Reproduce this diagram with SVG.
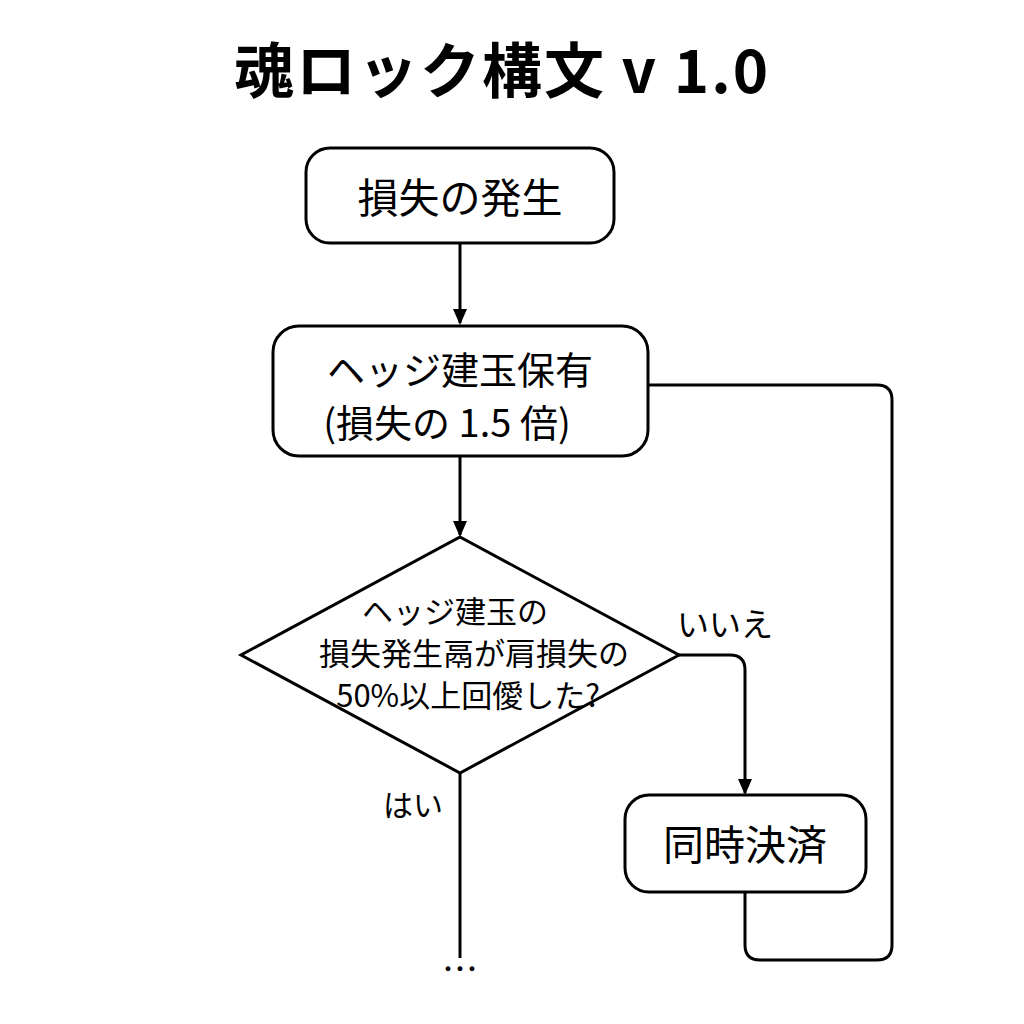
<svg xmlns="http://www.w3.org/2000/svg" width="1024" height="1024" viewBox="0 0 1024 1024">
<defs>
<marker id="arr" markerWidth="16" markerHeight="16" refX="14" refY="8" orient="auto" markerUnits="userSpaceOnUse">
<path d="M0,1 L16,8 L0,15 Z" fill="#000"/>
</marker>
<style>
.box{fill:#fff;stroke:#000;stroke-width:3}
.t{font-family:"Noto Sans CJK JP","Noto Sans",sans-serif;fill:#000;text-anchor:middle}
.c{fill:none;stroke:#000;stroke-width:3;stroke-linejoin:round}
</style>
</defs>
<rect width="1024" height="1024" fill="#fff"/>
<text class="t" x="502" y="93" font-size="60" font-weight="bold" letter-spacing="2">魂ロック構文 v 1.0</text>
<g id="connectors">
<path class="c" d="M460,243 V323" marker-end="url(#arr)"/>
<path class="c" d="M460,456 V535" marker-end="url(#arr)"/>
<path class="c" d="M679,655 H730 Q745,655 745,670 V793" marker-end="url(#arr)"/>
<path class="c" d="M745,892 V945 Q745,960 760,960 H877 Q892,960 892,945 V400 Q892,385 877,385 H648"/>
<path class="c" d="M460,773 V958"/>
<text class="t" x="725" y="636" font-size="32">いいえ</text>
<text class="t" x="413" y="816" font-size="30">はい</text>
<text class="t" x="460" y="983" font-size="36">…</text>
</g>
<g id="n1">
<rect class="box" x="306" y="148" width="308" height="95" rx="24"/>
<text class="t" x="460" y="213" font-size="41">損失の発生</text>
</g>
<g id="n2">
<rect class="box" x="273" y="326" width="375" height="130" rx="26"/>
<text class="t" x="460" y="384" font-size="38">ヘッジ建玉保有</text>
<text class="t" x="447" y="437" font-size="38">(損失の 1.5 倍)</text>
</g>
<g id="n3">
<path class="box" d="M460,537 L679,655 L460,773 L241,655 Z"/>
<text class="t" x="455" y="623" font-size="31">ヘッジ建玉の</text>
<text class="t" x="474" y="665" font-size="31">損失発生鬲が肩損失の</text>
<text class="t" x="468" y="707" font-size="31">50%以上回僾した?</text>
</g>
<g id="n4">
<rect class="box" x="625" y="795" width="241" height="97" rx="24"/>
<text class="t" x="745" y="860" font-size="41">同時決済</text>
</g>
</svg>
